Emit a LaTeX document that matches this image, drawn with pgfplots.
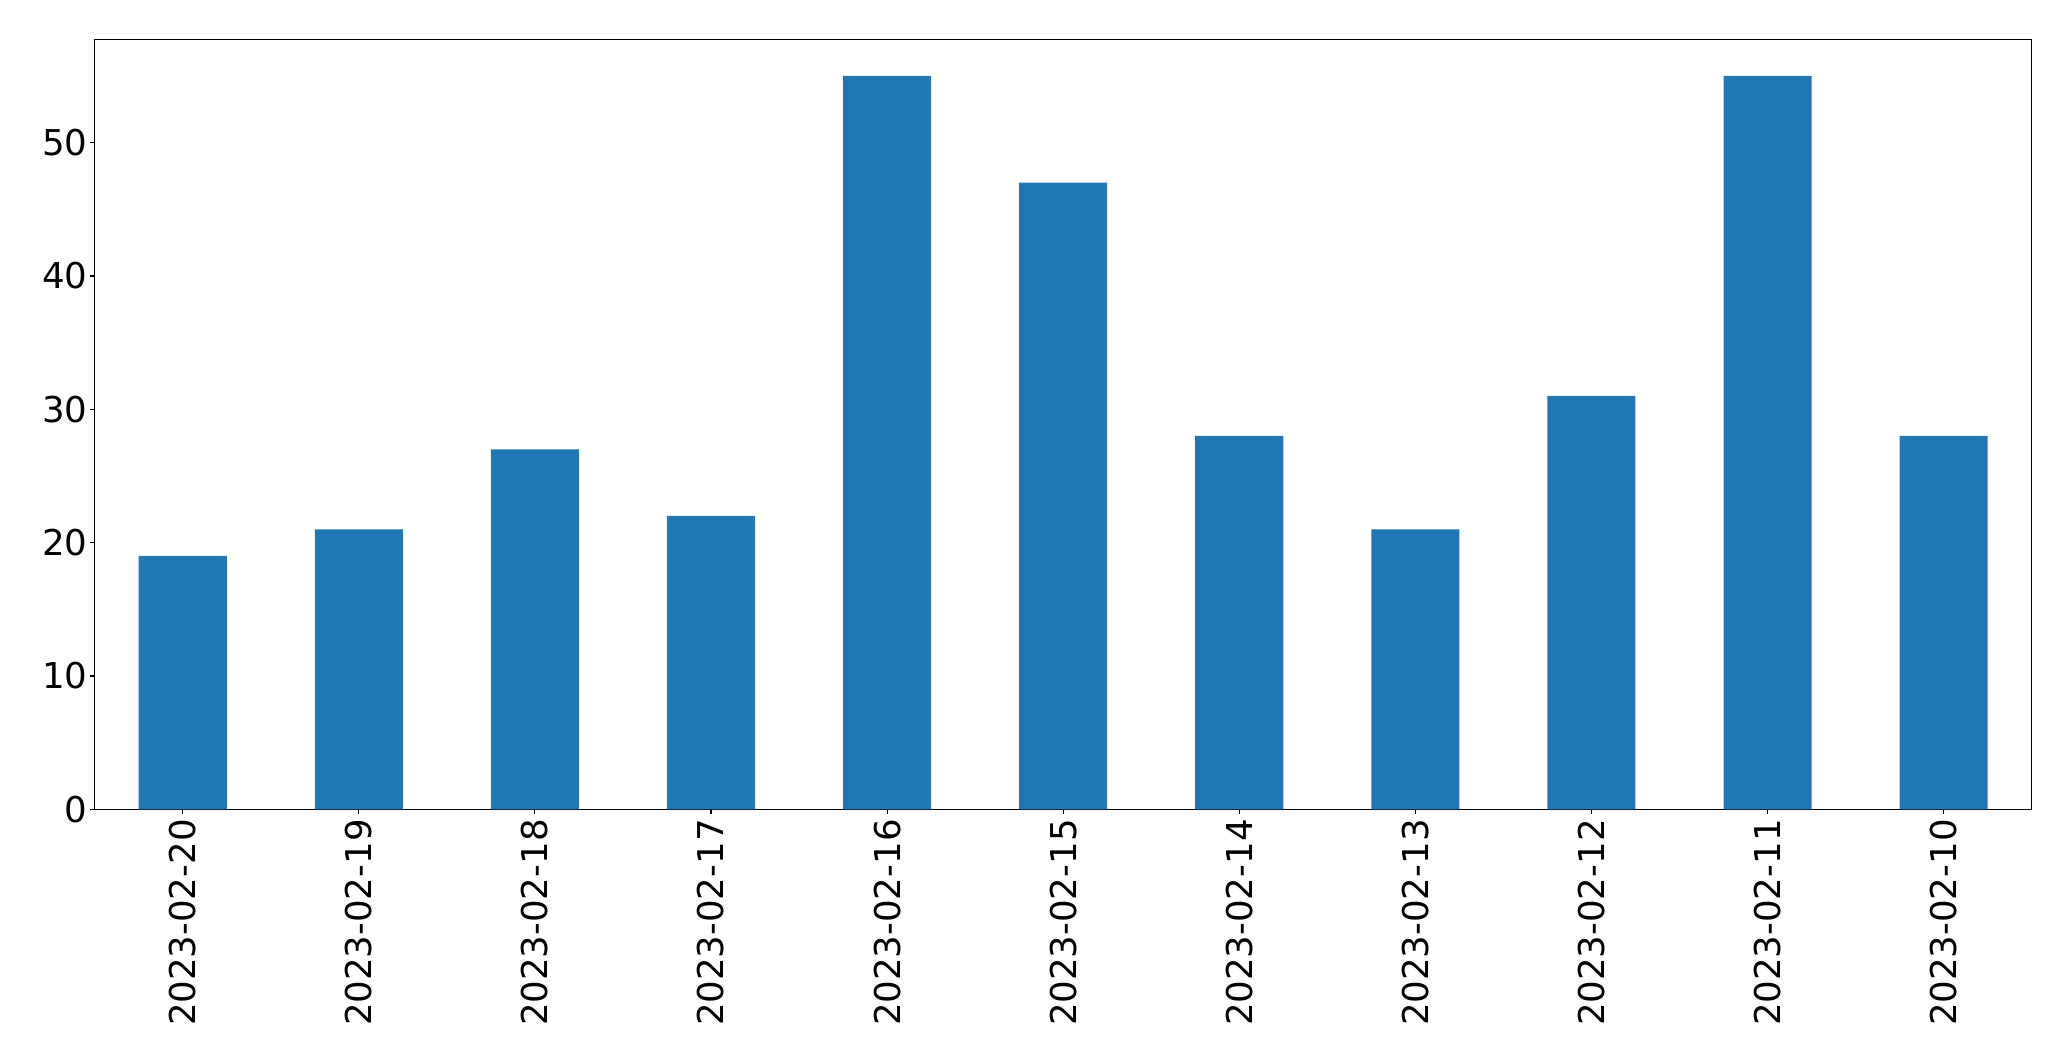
\documentclass[border=0pt]{standalone}
\usepackage{fontspec}
\setmainfont{DejaVu Sans}
\usepackage{pgfplots}
\pgfplotsset{compat=1.18}
\definecolor{mplblue}{HTML}{1F77B4}

\begin{document}
\begin{tikzpicture}
  % page = 2071x1061 px at 0.72bp per px
  \useasboundingbox (-68.18bp,-181.22bp) rectangle (1422.94bp,582.70bp);
  \begin{axis}[
      scale only axis,
      width=1394.6bp, height=554.4bp,
      xmin=-0.5, xmax=10.5,
      ymin=0, ymax=57.75,
      xtick={0,...,10},
      xticklabels={2023-02-20,2023-02-19,2023-02-18,2023-02-17,2023-02-16,2023-02-15,2023-02-14,2023-02-13,2023-02-12,2023-02-11,2023-02-10},
      ytick={0,10,20,30,40,50},
      tick pos=left,
      tick align=outside,
      major tick length=3.5bp,
      tick style={black, line width=0.8bp},
      axis line style={line width=0.8bp},
      ticklabel style={font=\fontsize{25.7}{30}\selectfont},
      /pgf/number format/assume math mode=true,
      xticklabel style={rotate=90, anchor=east, inner sep=0pt, xshift=-3.5bp},
      yticklabel style={inner sep=0pt, xshift=-1.6bp},
      ymajorgrids=false,
    ]
    \addplot[ybar, bar width=0.5, fill=mplblue, draw=none] coordinates {
      (0,19) (1,21) (2,27) (3,22) (4,55) (5,47)
      (6,28) (7,21) (8,31) (9,55) (10,28)
    };
  \end{axis}
\end{tikzpicture}
\end{document}
